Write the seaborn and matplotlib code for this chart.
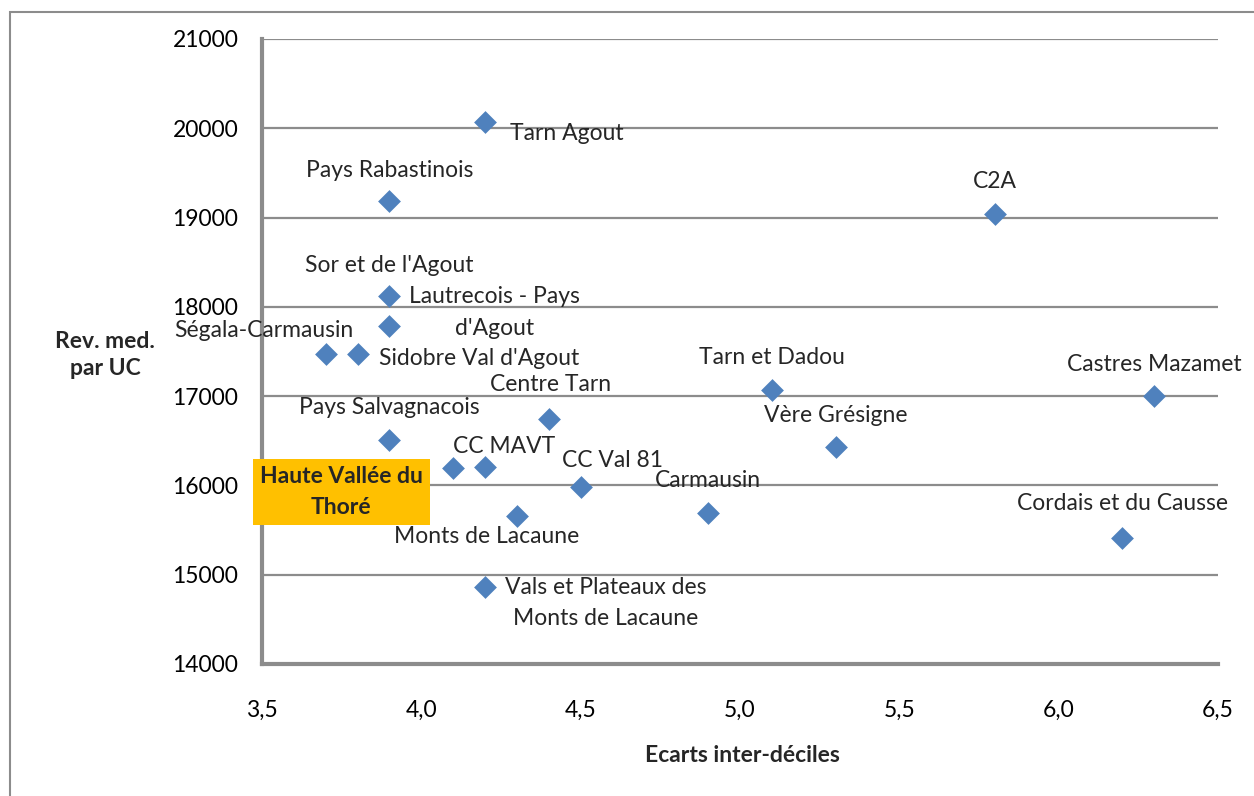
import pandas as pd
import matplotlib.pyplot as plt
import seaborn as sns
from matplotlib.patches import Rectangle

# data
territoires = ["Tarn Agout", "Pays Rabastinois", "C2A", "Sor et de l'Agout",
               "Lautrecois - Pays\nd'Agout", "Ségala-Carmausin", "Sidobre Val d'Agout",
               "Tarn et Dadou", "Castres Mazamet", "Centre Tarn", "Vère Grésigne",
               "Pays Salvagnacois", "CC MAVT", "Haute Vallée du\nThoré", "CC Val 81",
               "Carmausin", "Monts de Lacaune", "Cordais et du Causse",
               "Vals et Plateaux des\nMonts de Lacaune"]
ecarts = [4.2, 3.9, 5.8, 3.9, 3.9, 3.7, 3.8, 5.1, 6.3, 4.4, 5.3,
          3.9, 4.2, 4.1, 4.5, 4.9, 4.3, 6.2, 4.2]
rev_med = [20070, 19180, 19040, 18120, 17780, 17470, 17470, 17070, 17000, 16745, 16430,
           16510, 16210, 16195, 15980, 15690, 15660, 15410, 14860]

# label offsets in pixels (dx right, dy down) from each point
label_dx = [82, 0, 0, 0, 105, -62, 122, 0, 0, 2, 0, 0, 19, -112, 32, 0, -30, 0, 121]
label_dy = [11, -31, -32, -31, -14, -24, 4, -32, -32, -34, -32, -32, -20, 24, -27, -33, 21, -35, 16]

df = pd.DataFrame({"territoire": territoires, "ecart": ecarts, "rev": rev_med})

sns.set_style("white")
plt.rcParams["font.family"] = ["Lato", "DejaVu Sans"]

W, H = 1254, 796
fig = plt.figure(figsize=(W / 100, H / 100), dpi=100)
ax = fig.add_axes([262 / W, 1 - 664 / H, (1218 - 262) / W, (664 - 39) / H])

grey = "#8c8c8c"
blue = "#4f81bd"
fs = 16.5

sns.scatterplot(data=df, x="ecart", y="rev", marker="D", s=135, color=blue,
                edgecolor=blue, linewidth=0, ax=ax, zorder=3, clip_on=False)

ax.set_xlim(3.5, 6.5)
ax.set_ylim(14000, 21000)
ax.set_xticks([3.5, 4.0, 4.5, 5.0, 5.5, 6.0, 6.5])
ax.set_xticklabels(["3,5", "4,0", "4,5", "5,0", "5,5", "6,0", "6,5"])
ax.set_yticks(range(14000, 21001, 1000))
ax.set_yticklabels([str(v) for v in range(14000, 21001, 1000)])

for v in range(15000, 21001, 1000):
    ax.axhline(v, color=grey, lw=1.6, zorder=1)

for s in ["top", "right"]:
    ax.spines[s].set_visible(False)
for s in ["left", "bottom"]:
    ax.spines[s].set_color(grey)
    ax.spines[s].set_linewidth(3)

ax.tick_params(axis="both", colors=grey, labelcolor="black", labelsize=fs, width=1.5)
ax.tick_params(axis="y", length=6, pad=11)
ax.tick_params(axis="x", length=6, pad=20)
ax.set_xlabel("")
ax.set_ylabel("")

for name, x, y, dx, dy in zip(territoires, ecarts, rev_med, label_dx, label_dy):
    if name.startswith("Haute"):
        ax.annotate(name, (x, y), xytext=(dx * 0.72, -dy * 0.72), textcoords="offset points",
                    ha="center", va="center", fontsize=fs, fontweight="bold",
                    linespacing=1.55,
                    bbox=dict(boxstyle="square,pad=0.3", fc="#ffc000", ec="none"), zorder=4)
    else:
        ax.annotate(name, (x, y), xytext=(dx * 0.72, -dy * 0.72), textcoords="offset points",
                    ha="center", va="center", fontsize=fs, linespacing=1.6, zorder=4)

fig.text(105 / W, 1 - 355 / H, "Rev. med.\npar UC", ha="center", va="center",
         fontsize=fs, fontweight="bold", linespacing=1.4)
fig.text(742 / W, 1 - 755 / H, "Ecarts inter-déciles", ha="center", va="center",
         fontsize=fs, fontweight="bold")

# outer chart frame
fig.add_artist(Rectangle((10 / W, -0.1), 1.2, 1.1 - 12 / H, transform=fig.transFigure,
                         fill=False, edgecolor=grey, lw=1.5))

fig.savefig("out.png", dpi=100)
